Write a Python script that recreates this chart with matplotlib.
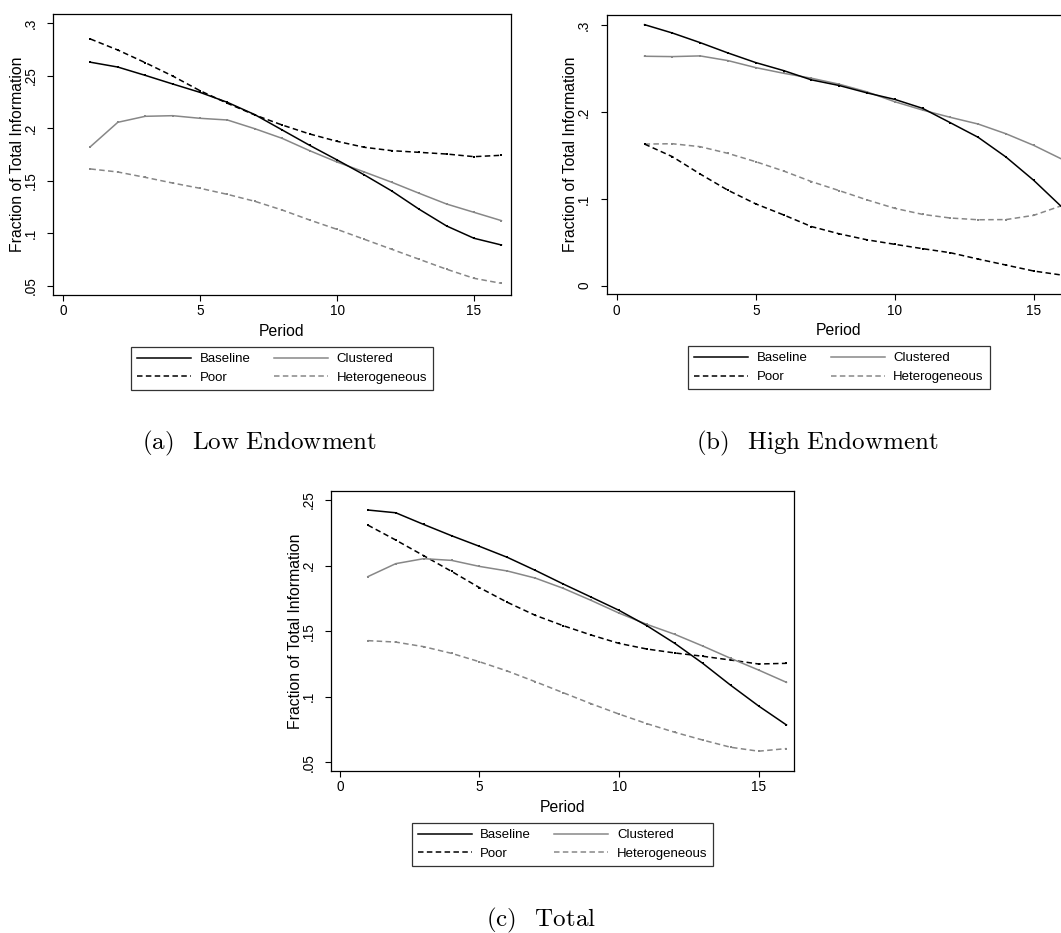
import matplotlib
matplotlib.use("Agg")
import matplotlib.pyplot as plt
from matplotlib.lines import Line2D

plt.rcParams['font.family'] = ['Liberation Sans', 'DejaVu Sans']
plt.rcParams['mathtext.fontset'] = 'cm'

periods = list(range(1, 17))

# Panel (a) Low Endowment
base_a = [0.263, 0.2584, 0.2505, 0.2423, 0.2343, 0.2248, 0.2131, 0.1985, 0.1839, 0.170,
          0.1557, 0.1404, 0.123, 0.1071, 0.0954, 0.089]
poor_a = [0.2851, 0.2746, 0.2626, 0.2499, 0.2359, 0.2239, 0.2128, 0.2032, 0.1947, 0.1877,
          0.182, 0.1788, 0.1772, 0.1756, 0.1731, 0.1744]
clus_a = [0.1826, 0.2058, 0.2115, 0.2121, 0.2096, 0.208, 0.1997, 0.1905, 0.1788, 0.168,
          0.1585, 0.1487, 0.1382, 0.128, 0.1201, 0.1122]
het_a = [0.1614, 0.1585, 0.1534, 0.148, 0.143, 0.1372, 0.1306, 0.1223, 0.1128, 0.1039,
         0.0944, 0.0849, 0.0754, 0.0659, 0.0573, 0.0525]

# Panel (b) High Endowment
base_b = [0.3008, 0.2912, 0.2801, 0.2682, 0.2571, 0.2479, 0.2372, 0.2307, 0.2222, 0.2147,
          0.2044, 0.1878, 0.171, 0.1483, 0.1214, 0.091]
clus_b = [0.2644, 0.264, 0.2648, 0.2594, 0.2513, 0.2448, 0.2391, 0.2322, 0.2234, 0.212,
          0.2024, 0.194, 0.1863, 0.1751, 0.1617, 0.146]
poor_b = [0.1632, 0.1487, 0.1287, 0.11, 0.0943, 0.0816, 0.0682, 0.0598, 0.0529, 0.0477,
          0.0427, 0.038, 0.0307, 0.0238, 0.0169, 0.0123]
het_b = [0.1632, 0.1636, 0.1602, 0.1525, 0.1429, 0.1322, 0.12, 0.1096, 0.0989, 0.0892,
         0.0822, 0.078, 0.076, 0.0762, 0.0811, 0.0922]

# Panel (c) Total
base_c = [0.2424, 0.2403, 0.2314, 0.2228, 0.2147, 0.2063, 0.1964, 0.186, 0.176, 0.1659,
          0.1542, 0.1407, 0.1255, 0.1088, 0.093, 0.0785]
poor_c = [0.2309, 0.2195, 0.2076, 0.1956, 0.1832, 0.172, 0.1621, 0.1542, 0.1471, 0.1407,
          0.1364, 0.1334, 0.1309, 0.128, 0.125, 0.1255]
clus_c = [0.1916, 0.2015, 0.2053, 0.204, 0.1994, 0.1959, 0.1905, 0.1827, 0.1735, 0.1638,
          0.1552, 0.1476, 0.1387, 0.1293, 0.1204, 0.111]
het_c = [0.1428, 0.1417, 0.1382, 0.1331, 0.1267, 0.1196, 0.1115, 0.1031, 0.0947, 0.0868,
         0.0795, 0.0729, 0.067, 0.0615, 0.0585, 0.0605]

# legend order (filled column by column -> rows read Baseline/Clustered, Poor/Heterogeneous)
legend_order = ["Baseline", "Poor", "Clustered", "Heterogeneous"]
xticks = [0, 5, 10, 15]
yticks_a = [0.05, 0.1, 0.15, 0.2, 0.25, 0.3]
ylabels_a = [".05", ".1", ".15", ".2", ".25", ".3"]
yticks_b = [0, 0.1, 0.2, 0.3]
ylabels_b = ["0", ".1", ".2", ".3"]
yticks_c = [0.05, 0.1, 0.15, 0.2, 0.25]
ylabels_c = [".05", ".1", ".15", ".2", ".25"]
captions = [r"$\mathrm{(a)\ \enspace Low\ Endowment}$",
            r"$\mathrm{(b)\ \enspace High\ Endowment}$",
            r"$\mathrm{(c)\ \enspace Total}$"]

W, H = 1061, 933
fig = plt.figure(figsize=(W / 100, H / 100), dpi=100)

BLACK = "#000000"
GRAY = "#878787"
DASH = (3.6, 2.2)
LW = 1.1

styles = {
    "Baseline": dict(color=BLACK, linestyle="-"),
    "Clustered": dict(color=GRAY, linestyle="-"),
    "Poor": dict(color=BLACK, linestyle=(0, DASH)),
    "Heterogeneous": dict(color=GRAY, linestyle=(0, DASH)),
}


def px_axes(left, right, top, bottom):
    return fig.add_axes([left / W, 1 - bottom / H, (right - left) / W, (bottom - top) / H])


def panel(rect, data, xlim, ylim, yt, ytl, caption, cap_xy):
    ax = px_axes(*rect)
    for name in ["Heterogeneous", "Poor", "Clustered", "Baseline"]:
        ax.plot(periods, data[name], lw=LW, marker="s", markersize=1.8,
                markeredgewidth=0, **styles[name])
    ax.set_xlim(*xlim)
    ax.set_ylim(*ylim)
    ax.set_xticks(xticks)
    ax.set_xticklabels([str(t) for t in xticks])
    ax.set_yticks(yt)
    ax.set_yticklabels(ytl, rotation=90, va="center")
    ax.tick_params(axis="both", direction="out", length=4.2, width=0.8,
                   labelsize=9.8, color=BLACK)
    ax.tick_params(axis="x", pad=2.5)
    ax.tick_params(axis="y", pad=7)
    for s in ax.spines.values():
        s.set_linewidth(0.9)
    ax.set_xlabel("Period", fontsize=11.3, labelpad=3.8)
    ax.set_ylabel("Fraction of Total Information", fontsize=11.3, labelpad=-1)
    # legend
    handles = [Line2D([], [], lw=LW, **styles[n]) for n in legend_order]
    cx = (rect[0] + rect[1]) / 2
    top = rect[3] + 52
    leg = fig.legend(handles, legend_order, ncol=2, loc="upper center",
                     bbox_to_anchor=(cx / W, 1 - top / H), fontsize=9.5,
                     frameon=True, fancybox=False, shadow=False,
                     handlelength=4.1, handletextpad=0.65, columnspacing=1.75,
                     labelspacing=0.5, borderpad=0.45, borderaxespad=0)
    fr = leg.get_frame()
    fr.set_edgecolor(BLACK)
    fr.set_linewidth(0.9)
    fig.text(cap_xy[0] / W, 1 - cap_xy[1] / H, caption, fontsize=18,
             ha="center", va="center")
    return ax


panel((53, 511, 14, 295),
      {"Baseline": base_a, "Clustered": clus_a, "Poor": poor_a, "Heterogeneous": het_a},
      (-0.365, 16.35), (0.0414, 0.3089), yticks_a, ylabels_a, captions[0], (260, 443))

panel((606.6, 1071.3, 14.6, 294.3),
      {"Baseline": base_b, "Clustered": clus_b, "Poor": poor_b, "Heterogeneous": het_b},
      (-0.365, 16.35), (-0.0099, 0.3124), yticks_b, ylabels_b, captions[1], (817, 443))

panel((331, 794, 491, 771),
      {"Baseline": base_c, "Clustered": clus_c, "Poor": poor_c, "Heterogeneous": het_c},
      (-0.32, 16.27), (0.0434, 0.2569), yticks_c, ylabels_c, captions[2], (541, 920))

fig.savefig("out.png", dpi=100)
